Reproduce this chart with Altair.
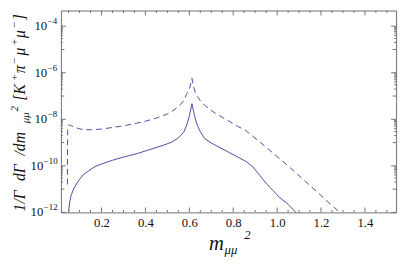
import altair as alt
import pandas as pd

# ---- data (x = m_mumu^2, value = log10 of 1/Gamma dGamma/dm^2) ----
solid_x = [0.0447, 0.048, 0.051, 0.055, 0.062, 0.075, 0.095, 0.115, 0.14, 0.17, 0.214, 0.25,
           0.289, 0.363, 0.42, 0.48, 0.52, 0.55, 0.575, 0.59, 0.60, 0.607, 0.612, 0.617, 0.624,
           0.634, 0.648, 0.67, 0.70, 0.74, 0.78, 0.82, 0.86, 0.89, 0.92, 0.95, 0.98, 1.01, 1.05,
           1.08, 1.10]
solid_log = [-13.5, -12.3, -11.9, -11.55, -11.25, -10.95, -10.64, -10.4, -10.22, -10.03, -9.87,
             -9.76, -9.65, -9.47, -9.3, -9.12, -8.98, -8.8, -8.55, -8.2, -7.85, -7.55, -7.33,
             -7.55, -7.85, -8.2, -8.5, -8.83, -9.02, -9.22, -9.42, -9.62, -9.82, -10.05, -10.4,
             -10.75, -11.05, -11.35, -11.65, -11.95, -12.2]

dashed_x = [0.0447, 0.0449, 0.0453, 0.046, 0.048, 0.052, 0.06, 0.08, 0.10, 0.12, 0.15, 0.20,
            0.25, 0.30, 0.36, 0.40, 0.45, 0.50, 0.53, 0.556, 0.575, 0.586, 0.600, 0.607, 0.612,
            0.617, 0.625, 0.635, 0.650, 0.676, 0.720, 0.770, 0.820, 0.854, 0.950, 1.050, 1.150,
            1.250, 1.290]
dashed_log = [-10.8, -9.6, -8.8, -8.4, -8.27, -8.23, -8.27, -8.35, -8.41, -8.44, -8.45, -8.42,
              -8.35, -8.28, -8.17, -8.08, -7.95, -7.77, -7.6, -7.4, -7.2, -6.95, -6.7, -6.45,
              -6.24, -6.5, -6.8, -7.0, -7.2, -7.45, -7.75, -8.02, -8.3, -8.46, -9.2, -10.0,
              -10.85, -11.7, -12.05]

x_major = [0.2, 0.4, 0.6, 0.8, 1.0, 1.2, 1.4]
x_minor = [0.05, 0.1, 0.15, 0.25, 0.3, 0.35, 0.45, 0.5, 0.55, 0.65, 0.7, 0.75, 0.85, 0.9,
           0.95, 1.05, 1.1, 1.15, 1.25, 1.3, 1.35, 1.45, 1.5]
y_major = [1e-12, 1e-10, 1e-8, 1e-6, 1e-4]
y_mid = [1e-11, 1e-9, 1e-7, 1e-5]
y_minor = [k * 10.0 ** e for e in (-11, -9, -7, -5) for k in range(2, 10)]
y_exponents = ["−12", "−10", "−8", "−6", "−4"]

# ---- style ----
W, H = 342, 206
LINE = "#4b4ba3"
FRAME = "#707070"
SERIF = "Liberation Serif"
TXT = "#111111"

xscale = alt.Scale(domain=[0.015, 1.542], nice=False, zero=False)
yscale = alt.Scale(type="log", domain=[1e-12, 10 ** -3.326], nice=False)
xaxis = alt.Axis(values=x_major, format=".1f", ticks=False, domain=False, grid=False,
                 title=None, labelFont=SERIF, labelFontSize=13, labelColor=TXT,
                 labelPadding=4)


def X(f):
    return alt.X(f"{f}:Q", scale=xscale, axis=xaxis)


def Y(f):
    return alt.Y(f"{f}:Q", scale=yscale, axis=None)


df_s = pd.DataFrame({"x": solid_x, "y": [10 ** v for v in solid_log]})
df_d = pd.DataFrame({"x": dashed_x, "y": [10 ** v for v in dashed_log]})

solid = alt.Chart(df_s).mark_line(clip=True, color=LINE, strokeWidth=1).encode(
    x=X("x"), y=Y("y"), order="x:Q")
dashed = alt.Chart(df_d).mark_line(clip=True, color=LINE, strokeWidth=1,
                                   strokeDash=[6, 4]).encode(x=X("x"), y=Y("y"), order="x:Q")

layers = [solid, dashed]


def xticks(vals, length):
    df = pd.DataFrame({"x": vals})
    out = []
    for y0, y1 in ((H, H - length), (0, length)):
        out.append(alt.Chart(df).mark_rule(color=FRAME, strokeWidth=1).encode(
            x=X("x"), y=alt.value(y0), y2=alt.value(y1)))
    return out


def yticks(vals, length):
    df = pd.DataFrame({"y": vals})
    out = []
    for x0, x1 in ((0, length), (W, W - length)):
        out.append(alt.Chart(df).mark_rule(color=FRAME, strokeWidth=1).encode(
            y=Y("y"), x=alt.value(x0), x2=alt.value(x1)))
    return out


layers += xticks(x_major, 5) + xticks(x_minor, 2.5)
layers += yticks(y_major, 5) + yticks(y_mid, 3.5) + yticks(y_minor, 2)

# y tick labels "10" with raised exponent, placed through the y scale
lab = pd.DataFrame({"y": y_major, "e": y_exponents})
for long_exp, xend in ((True, -18), (False, -14)):
    sub = lab[lab["e"].str.len() == 3] if long_exp else lab[lab["e"].str.len() == 2]
    layers.append(alt.Chart(sub).mark_text(
        text="10", font=SERIF, fontSize=13, color=TXT, align="right", baseline="middle"
    ).encode(y=Y("y"), x=alt.value(xend)))
    layers.append(alt.Chart(sub).mark_text(
        font=SERIF, fontSize=9, color=TXT, align="left", baseline="alphabetic", dy=-2
    ).encode(y=Y("y"), x=alt.value(xend + 0.5), text="e:N"))


def txt(s, x, y, size, angle=0):
    m = alt.Chart(pd.DataFrame({"t": [s]})).mark_text(
        text=s, font=SERIF, fontSize=size, fontStyle="italic", color=TXT,
        align="left", baseline="alphabetic", **({"angle": angle} if angle else {}))
    return m.encode(x=alt.value(x), y=alt.value(y))


# y-axis title, rotated, pieces (page y anchor -> plot y = page - 8; page x -> plot x = page - 62)
MAIN_X, SUB_X, SUP_X = 25 - 62, 29 - 62, 18 - 62
ytitle = [("1/Γ", 213, "m"), ("dΓ", 182, "m"), ("/dm", 156, "m"), ("μμ", 123, "b"),
          ("2", 111, "p"), ("[K", 100, "m"), ("+", 80, "p"), ("π", 72, "m"), ("−", 63, "p"),
          ("μ", 54, "m"), ("+", 44, "p"), ("μ", 36, "m"), ("−", 26, "p"), ("]", 18, "m")]
for s, py, kind in ytitle:
    xx = {"m": MAIN_X, "b": SUB_X, "p": SUP_X}[kind]
    size = 16 if kind == "m" else 11
    layers.append(txt(s, xx, py - 8, size, angle=270))

# x-axis title m_{μμ}^2
layers.append(txt("m", 213 - 62, 252 - 8, 21))
layers.append(txt("μμ", 229 - 62, 256 - 8, 13))
layers.append(txt("2", 249 - 62, 241 - 8, 13))

chart = alt.layer(*layers).properties(
    width=W, height=H, autosize="none",
    padding={"left": 54, "top": 0, "right": 5, "bottom": 46},
).configure_view(stroke=FRAME, strokeWidth=1).configure_axis(
    labelFont=SERIF, labelFontSize=13, labelColor=TXT
).configure_text(font=SERIF)

chart.save("out.html", embed_options={"renderer": "svg", "actions": False})
